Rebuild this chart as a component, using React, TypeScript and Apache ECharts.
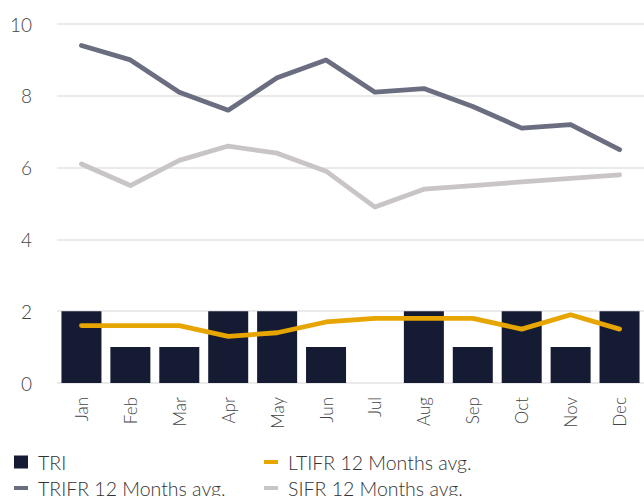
import React, { useEffect, useRef } from "react";
import * as echarts from "echarts";

const months = ["Jan", "Feb", "Mar", "Apr", "May", "Jun", "Jul", "Aug", "Sep", "Oct", "Nov", "Dec"];
const tri = [2, 1, 1, 2, 2, 1, 0, 2, 1, 2, 1, 2];
const trifr = [9.4, 9.0, 8.1, 7.6, 8.5, 9.0, 8.1, 8.2, 7.7, 7.1, 7.2, 6.5];
const sifr = [6.1, 5.5, 6.2, 6.6, 6.4, 5.9, 4.9, 5.4, 5.5, 5.6, 5.7, 5.8];
const ltifr = [1.6, 1.6, 1.6, 1.3, 1.4, 1.7, 1.8, 1.8, 1.8, 1.5, 1.9, 1.5];

const FONT = "Lato";

export default function App() {
  const ref = useRef<HTMLDivElement>(null);
  useEffect(() => {
    if (!ref.current) return;
    const chart = echarts.init(ref.current, null, { renderer: "svg" });
    const lineSeries = (name: string, data: number[], color: string) => ({
      name,
      type: "line",
      data,
      symbol: "none",
      showSymbol: false,
      itemStyle: { color },
      lineStyle: { color, width: 4.8, cap: "round", join: "round" },
    });
    const legendItem = (name: string, left: number, top: number, isBar: boolean) => ({
      left,
      top,
      icon: "rect",
      itemWidth: 14,
      itemHeight: isBar ? 13 : 4,
      itemGap: 0,
      textStyle: { fontFamily: FONT, fontSize: 19.5, fontWeight: 300, color: "#333", padding: [0, 0, 0, 5] },
      data: [name],
    });
    chart.setOption({
      animation: false,
      textStyle: { fontFamily: FONT },
      grid: { left: 57, right: 0, top: 24, bottom: 113, containLabel: false },
      legend: [
        legendItem("TRI", 9, 447, true),
        legendItem("TRIFR 12 Months avg.", 9, 473, false),
        legendItem("LTIFR 12 Months avg.", 259, 447, false),
        legendItem("SIFR 12 Months avg.", 259, 473, false),
      ],
      xAxis: {
        type: "category",
        data: months,
        axisLine: { show: false },
        axisTick: { show: false },
        axisLabel: { rotate: 90, fontFamily: FONT, fontSize: 17, fontWeight: 300, color: "#444", margin: 14 },
      },
      yAxis: {
        type: "value",
        min: 0,
        max: 10,
        interval: 2,
        axisLabel: { fontFamily: FONT, fontSize: 19, fontWeight: 300, color: "#444", margin: 25 },
        splitLine: { lineStyle: { color: "#e3e3e3", width: 1.5 } },
      },
      series: [
        {
          name: "TRI",
          type: "bar",
          data: tri,
          barWidth: 40,
          itemStyle: { color: "#141b33" },
        },
        lineSeries("TRIFR 12 Months avg.", trifr, "#6b6e80"),
        lineSeries("LTIFR 12 Months avg.", ltifr, "#e6a500"),
        lineSeries("SIFR 12 Months avg.", sifr, "#c9c5c6"),
      ],
    });
    return () => chart.dispose();
  }, []);
  return <div ref={ref} style={{ width: 644, height: 496, position: "absolute", left: 0, top: 0 }} />;
}
